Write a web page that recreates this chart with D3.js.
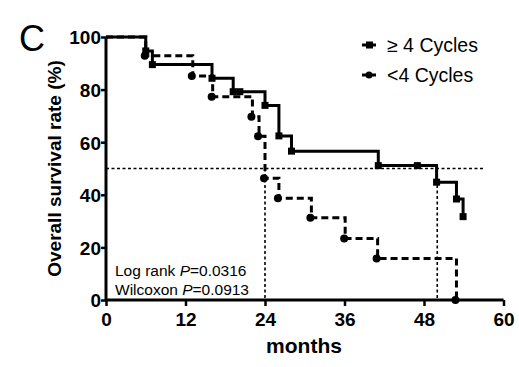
<!DOCTYPE html>
<html><head><meta charset="utf-8">
<script src="https://cdn.jsdelivr.net/npm/d3@7"></script>
<style>body{margin:0;background:#fff}svg{display:block}text{font-family:"Liberation Sans",Arial,sans-serif}</style>
</head><body><svg id="c" width="519" height="367"></svg>
<script>
const seriesNames = ["≥ 4 Cycles", "<4 Cycles"];
const xTicks = [0, 12, 24, 36, 48, 60];
const yTicks = [0, 20, 40, 60, 80, 100];
// ≥ 4 cycles (solid, squares)
const solidTimes = [0, 6, 7, 16, 19.2, 24, 26.1, 28, 41.1, 49.9, 52.9, 53.9];
const solidSurv  = [100, 94.7, 89.5, 84.3, 79.2, 74.0, 62.4, 56.6, 51.1, 44.8, 38.4, 31.7];
const solidCensorTimes = [20.2, 47];
const solidCensorSurv  = [79.2, 51.1];
// <4 cycles (dashed, circles)
const dashTimes = [0, 6, 13.1, 16.1, 22.1, 23.1, 24, 26.1, 31, 36.1, 41, 52.9];
const dashSurv  = [100, 92.9, 85.2, 77.3, 69.7, 62.3, 46.3, 38.7, 31.3, 23.4, 15.8, 0];
const medianLevel = 50;
const medianTimes = [24, 50];
const refLineEnd = 57;
const stats = [["Log rank ", "P", "=0.0316"], ["Wilcoxon ", "P", "=0.0913"]];

const svg = d3.select("#c");
const x = d3.scaleLinear().domain([0, 60]).range([106, 503.5]);
const y = d3.scaleLinear().domain([0, 100]).range([300, 37]);

// reference dotted lines
const ref = svg.append("g").attr("stroke", "#000").attr("stroke-width", 1.6).attr("stroke-dasharray", "3,2.5").attr("fill", "none");
ref.append("line").attr("x1", x(0)).attr("x2", x(refLineEnd)).attr("y1", y(medianLevel)).attr("y2", y(medianLevel));
medianTimes.forEach(t => ref.append("line").attr("x1", x(t)).attr("x2", x(t)).attr("y1", y(medianLevel)).attr("y2", y(0)));

function stepData(times, surv) {
  return times.map((t, i) => ({t, s: surv[i]}));
}
const line = d3.line().x(d => x(d.t)).y(d => y(d.s)).curve(d3.curveStepAfter);

const solid = stepData(solidTimes, solidSurv);
const dashed = stepData(dashTimes, dashSurv);

svg.append("path").datum(solid).attr("d", line).attr("fill", "none").attr("stroke", "#000").attr("stroke-width", 3);
svg.append("path").datum(dashed).attr("d", line).attr("fill", "none").attr("stroke", "#000").attr("stroke-width", 3).attr("stroke-dasharray", "7,4");

const sq = 7;
const solidMarks = solid.slice(1).concat(solidCensorTimes.map((t, i) => ({t, s: solidCensorSurv[i]})));
svg.append("g").selectAll("rect").data(solidMarks).join("rect")
  .attr("x", d => x(d.t) - sq / 2).attr("y", d => y(d.s) - sq / 2).attr("width", sq).attr("height", sq).attr("fill", "#000");
svg.append("g").selectAll("circle").data(dashed.slice(1)).join("circle")
  .attr("cx", d => x(d.t) - 1).attr("cy", d => y(d.s)).attr("r", 4).attr("fill", "#000");

// axes
const xAxis = svg.append("g").attr("transform", `translate(0,${y(0)})`)
  .call(d3.axisBottom(x).tickValues(xTicks).tickSize(6).tickPadding(3));
const yAxis = svg.append("g").attr("transform", `translate(${x(0)},0)`)
  .call(d3.axisLeft(y).tickValues(yTicks).tickSize(5).tickPadding(0));
[xAxis, yAxis].forEach(a => {
  a.select(".domain").attr("stroke-width", 3).attr("stroke", "#000");
  a.selectAll(".tick line").attr("stroke-width", 2.5).attr("stroke", "#000");
  a.selectAll("text").attr("font-size", 19).attr("font-weight", "bold").attr("fill", "#000")
    .attr("font-family", "'Liberation Sans', Arial, sans-serif");
});
yAxis.select(".domain").attr("d", `M0,${y(0)}V${y(100)}`);
xAxis.select(".domain").attr("d", `M${x(0)},0H${x(60)}`);
xAxis.selectAll("text").attr("dy", "0.9em");
yAxis.selectAll("text").attr("dy", "0.36em");

// titles
svg.append("text").attr("x", 304).attr("y", 353).attr("text-anchor", "middle")
  .attr("font-size", 21).attr("font-weight", "bold").text("months");
svg.append("text").attr("transform", `translate(61,${y(50)}) rotate(-90)`).attr("text-anchor", "middle")
  .attr("font-size", 19).attr("font-weight", "bold").text("Overall survival rate (%)");
svg.append("text").attr("x", 19).attr("y", 51).attr("font-size", 36).text("C");

// stats
stats.forEach((s, i) => {
  const t = svg.append("text").attr("x", 115).attr("y", 276 + i * 19).attr("font-size", 15.5);
  t.append("tspan").text(s[0]);
  t.append("tspan").attr("font-style", "italic").text(s[1]);
  t.append("tspan").text(s[2]);
});

// legend
const lg = svg.append("g");
seriesNames.forEach((n, i) => {
  const yy = 45 + i * 30;
  lg.append("line").attr("x1", 362).attr("x2", 376).attr("y1", yy).attr("y2", yy).attr("stroke", "#000").attr("stroke-width", 3);
  if (i === 0) lg.append("rect").attr("x", 366).attr("y", yy - 3.5).attr("width", 7).attr("height", 7).attr("fill", "#000");
  else lg.append("circle").attr("cx", 369).attr("cy", yy).attr("r", 3.5).attr("fill", "#000");
  lg.append("text").attr("x", 387).attr("y", yy + 7).attr("font-size", 19.5).text(n);
});
</script></body></html>
